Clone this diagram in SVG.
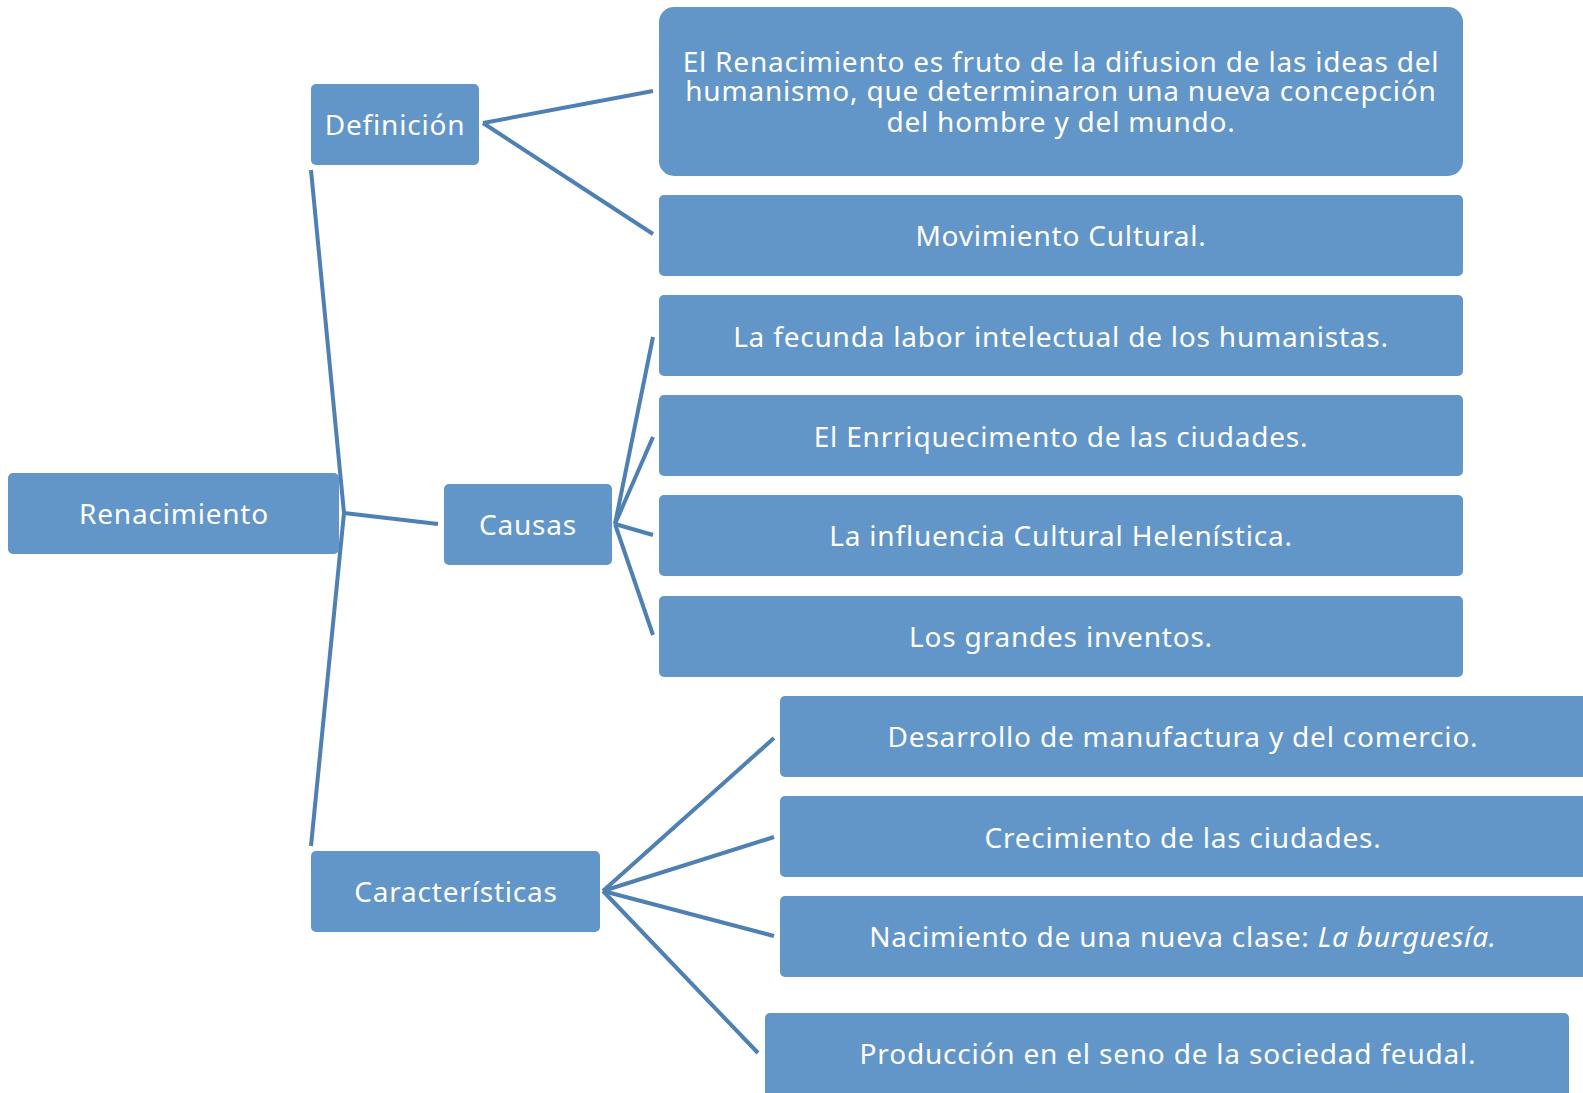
<svg xmlns="http://www.w3.org/2000/svg" width="1583" height="1093" viewBox="0 0 1583 1093">
<style>
.n{fill:#6296c8}
.t{font-family:"Noto Sans","Open Sans",sans-serif;font-size:28px;letter-spacing:0.8px;fill:#ffffff;text-anchor:middle;dominant-baseline:central}
.c line{stroke:#4f80b3;stroke-width:4;stroke-linecap:butt}
</style>
<rect width="1583" height="1093" fill="#ffffff"/>
<g id="connectors" class="c">
<line x1="311" y1="170" x2="344" y2="513"/>
<line x1="344" y1="513" x2="311" y2="846"/>
<line x1="344" y1="513" x2="438" y2="524"/>
<line x1="483" y1="123" x2="653" y2="91"/>
<line x1="483" y1="123" x2="653" y2="234"/>
<line x1="615" y1="524" x2="653" y2="337"/>
<line x1="615" y1="524" x2="653" y2="437"/>
<line x1="615" y1="524" x2="653" y2="535"/>
<line x1="615" y1="524" x2="653" y2="635"/>
<line x1="603" y1="891" x2="774" y2="738"/>
<line x1="603" y1="891" x2="774" y2="837"/>
<line x1="603" y1="891" x2="774" y2="936"/>
<line x1="603" y1="891" x2="758" y2="1053"/>
</g>
<g id="renacimiento"><rect class="n" x="8" y="473" width="331" height="81" rx="5"/><text class="t" x="174" y="513">Renacimiento</text></g>
<g id="definicion"><rect class="n" x="311" y="84" width="168" height="81" rx="5"/><text class="t" x="395" y="124">Definición</text></g>
<g id="causas"><rect class="n" x="444" y="484" width="168" height="81" rx="5"/><text class="t" x="528" y="524">Causas</text></g>
<g id="caracteristicas"><rect class="n" x="311" y="851" width="289" height="81" rx="5"/><text class="t" x="456" y="891">Características</text></g>
<g id="def1"><rect class="n" x="659" y="7" width="804" height="169" rx="15"/><text class="t"><tspan x="1061" y="61">El Renacimiento es fruto de la difusion de las ideas del</tspan><tspan x="1061" y="90">humanismo, que determinaron una nueva concepción</tspan><tspan x="1061" y="121">del hombre y del mundo.</tspan></text></g>
<g id="def2"><rect class="n" x="659" y="195" width="804" height="81" rx="5"/><text class="t" x="1061" y="235">Movimiento Cultural.</text></g>
<g id="causa1"><rect class="n" x="659" y="295" width="804" height="81" rx="5"/><text class="t" x="1061" y="336">La fecunda labor intelectual de los humanistas.</text></g>
<g id="causa2"><rect class="n" x="659" y="395" width="804" height="81" rx="5"/><text class="t" x="1061" y="436">El Enrriquecimento de las ciudades.</text></g>
<g id="causa3"><rect class="n" x="659" y="495" width="804" height="81" rx="5"/><text class="t" x="1061" y="535">La influencia Cultural Helenística.</text></g>
<g id="causa4"><rect class="n" x="659" y="596" width="804" height="81" rx="5"/><text class="t" x="1061" y="636">Los grandes inventos.</text></g>
<g id="car1"><rect class="n" x="780" y="696" width="810" height="81" rx="5"/><text class="t" x="1183" y="736">Desarrollo de manufactura y del comercio.</text></g>
<g id="car2"><rect class="n" x="780" y="796" width="810" height="81" rx="5"/><text class="t" x="1183" y="837">Crecimiento de las ciudades.</text></g>
<g id="car3"><rect class="n" x="780" y="896" width="810" height="81" rx="5"/><text class="t" x="1183" y="936">Nacimiento de una nueva clase: <tspan font-style="italic">La burguesía.</tspan></text></g>
<g id="car4"><rect class="n" x="765" y="1013" width="804" height="90" rx="5"/><text class="t" x="1168" y="1053">Producción en el seno de la sociedad feudal.</text></g>
</svg>
